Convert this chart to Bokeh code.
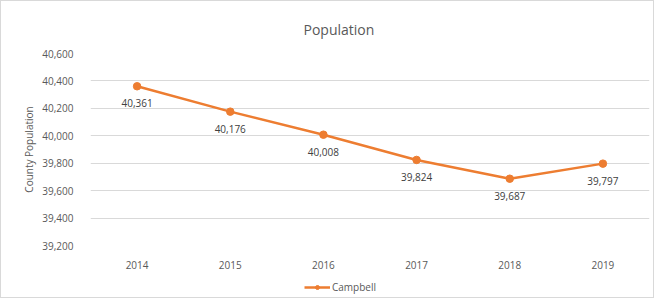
from bokeh.plotting import figure
from bokeh.layouts import column
from bokeh.models import (FactorRange, Range1d, NumeralTickFormatter, LabelSet,
                          ColumnDataSource, Legend, LegendItem, FixedTicker)
from bokeh.core.properties import value
from bokeh.embed import file_html
from bokeh.resources import INLINE

years = ["2014", "2015", "2016", "2017", "2018", "2019"]
population = [40361, 40176, 40008, 39824, 39687, 39797]
y_ticks = [39200, 39400, 39600, 39800, 40000, 40200, 40400, 40600]
series_name = "Campbell"
title_text = "Population"
y_title = "County Population"

FONT = "Open Sans"
TXT = "#595959"
ORANGE = "#ED7D31"

src = ColumnDataSource(dict(
    x=years, y=population, lab=[f"{v:,}" for v in population]))

p = figure(width=652, height=270, output_backend="svg", toolbar_location=None,
           x_range=FactorRange(*years, range_padding=0),
           y_range=Range1d(y_ticks[0], y_ticks[-1]),
           min_border_left=89, min_border_right=4, min_border_top=52,
           min_border_bottom=24)
p.outline_line_color = None
p.background_fill_color = "white"
p.border_fill_color = "white"

p.title.text = title_text
p.title.align = "left"
p.title.offset = 213
p.title.standoff = 29
p.title.text_font = FONT
p.title.text_font_size = "14px"
p.title.text_font_style = "normal"
p.title.text_color = TXT

p.xgrid.grid_line_color = None
p.ygrid.grid_line_color = "#D9D9D9"
p.ygrid.grid_line_width = 1
p.yaxis.ticker = FixedTicker(ticks=y_ticks)
p.yaxis.formatter = NumeralTickFormatter(format="0,0")

for ax in (p.xaxis[0], p.yaxis[0]):
    ax.axis_line_color = None
    ax.major_tick_line_color = None
    ax.minor_tick_line_color = None
    ax.major_label_text_font = FONT
    ax.major_label_text_font_size = "10px"
    ax.major_label_text_color = TXT
p.yaxis.major_label_standoff = 11
p.xaxis.major_label_standoff = 9
p.yaxis.axis_label = y_title
p.yaxis.axis_label_text_font = FONT
p.yaxis.axis_label_text_font_size = "10px"
p.yaxis.axis_label_text_font_style = "normal"
p.yaxis.axis_label_text_color = TXT
p.yaxis.axis_label_standoff = 3

line_style = dict(line_color=ORANGE, line_width=2.5)
marker_style = dict(size=7.5, fill_color=ORANGE, line_color=ORANGE, marker="circle")

p.line("x", "y", source=src, **line_style)
p.scatter("x", "y", source=src, **marker_style)

labels = LabelSet(x="x", y="y", text="lab", source=src, y_offset=-17,
                  text_align="center", text_baseline="middle",
                  text_font=value(FONT), text_font_size=value("10px"),
                  text_color=value("#404040"))
p.add_layout(labels)

# legend strip below the chart: same series, its data lies outside this strip's range
q = figure(width=652, height=26, output_backend="svg", toolbar_location=None,
           x_range=FactorRange(*years, range_padding=0), y_range=Range1d(0, 1),
           x_axis_location=None, y_axis_location=None, min_border=0)
q.outline_line_color = None
q.grid.grid_line_color = None
q.background_fill_color = "white"
q.border_fill_color = "white"
lk = q.line("x", "y", source=src, **line_style)
sk = q.scatter("x", "y", source=src, **marker_style)
legend = Legend(items=[LegendItem(label=series_name, renderers=[lk, sk])],
                location=(214, 3), orientation="horizontal",
                border_line_color=None, background_fill_alpha=0,
                glyph_width=26, glyph_height=10, label_standoff=2,
                padding=0, margin=0, label_text_font=FONT,
                label_text_font_size="10px", label_text_color=TXT)
q.add_layout(legend, "center")

layout = column(p, q, spacing=0, styles={"border": "1px solid #D9D9D9"})

open("out.html", "w").write(file_html(layout, INLINE))
